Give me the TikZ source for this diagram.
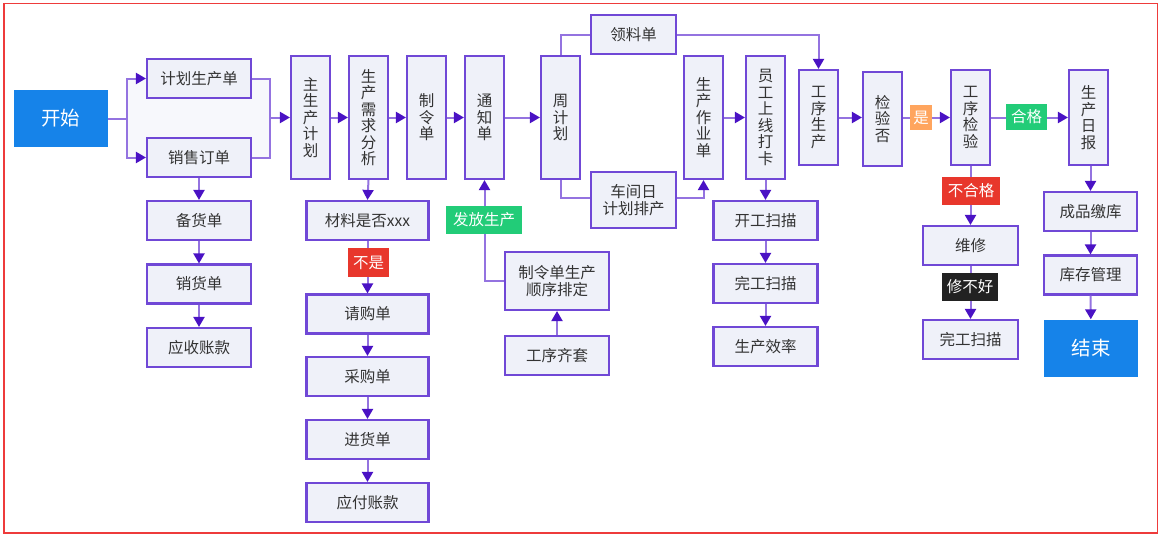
\documentclass[tikz,border=0pt]{standalone}
\usepackage{fontspec}
\setmainfont{Noto Sans CJK SC}
\usetikzlibrary{arrows.meta}
\definecolor{boxfill}{HTML}{EFF1F9}
\definecolor{boxline}{HTML}{7048D6}
\definecolor{linec}{HTML}{9473E0}
\definecolor{tipc}{HTML}{4A12C4}
\definecolor{txt}{HTML}{333333}
\definecolor{startblue}{HTML}{1683E9}
\definecolor{lblgreen}{HTML}{22CC78}
\definecolor{lblred}{HTML}{E8372C}
\definecolor{lblorange}{HTML}{FFA55E}
\definecolor{lbldark}{HTML}{222222}
\definecolor{frame}{HTML}{EE3B3B}
\definecolor{grp}{HTML}{F7F8FC}
\tikzset{
  x=1pt, y=-1pt,
  box/.style={draw=boxline, fill=boxfill, line width=2.1pt, text=txt,
    font=\fontsize{15.5}{16.5}\selectfont, inner sep=0pt, align=center},
  hbox/.style={box, minimum width=#1, minimum height=39pt},
  vbox/.style={box, minimum width=39pt, minimum height=#1},
  term/.style={fill=startblue, text=white, font=\fontsize{19.5}{21}\selectfont,
    inner sep=0pt, minimum width=94pt, minimum height=57pt},
  lbl/.style={fill=#1, text=white, font=\fontsize{15.5}{17}\selectfont,
    inner sep=0pt, minimum height=27pt},
  conn/.style={draw=linec, line width=2pt},
  arr/.style={conn, -{Triangle[length=10pt,width=11pt,color=tipc]}},
}
\begin{document}
\begin{tikzpicture}
\useasboundingbox (0,0) rectangle (1162,536);
\draw[frame, line width=1.6pt] (4,3.5) rectangle (1157.5,533);
\fill[grp] (127,78.5) rectangle (270,157.5);

% left column
\node[term] (start) at (61,118.5) {开始};
\node[hbox=104pt] (jhsc) at (199,78.5) {计划生产单};
\node[hbox=104pt] (xsdd) at (199,157.5) {销售订单};
\node[hbox=104pt] (bhd) at (199,220.5) {备货单};
\node[hbox=104pt] (xhd) at (199,284) {销货单};
\node[hbox=104pt] (yszk) at (199,347.5) {应收账款};

% vertical boxes
\node[vbox=123pt] (zscjh) at (310.5,117.5) {主\\生\\产\\计\\划};
\node[vbox=123pt] (xqfx) at (368.5,117.5) {生\\产\\需\\求\\分\\析};
\node[vbox=123pt] (zld) at (426.5,117.5) {制\\令\\单};
\node[vbox=123pt] (tzd) at (484.5,117.5) {通\\知\\单};
\node[vbox=123pt] (zjh) at (560.5,117.5) {周\\计\\划};
\node[hbox=85pt] (lld) at (633.5,34.5) {领料单};
\node[box, minimum width=85pt, minimum height=56pt] (cjr) at (633.5,200) {车间日\\计划排产};
\node[vbox=123pt] (sczy) at (703.5,117.5) {生\\产\\作\\业\\单};
\node[vbox=123pt] (yg) at (765.5,117.5) {员\\工\\上\\线\\打\\卡};
\node[hbox=104pt] (kgsm) at (765.5,220.5) {开工扫描};
\node[hbox=104pt] (wgsm) at (765.5,283.5) {完工扫描};
\node[hbox=104pt] (scxl) at (765.5,346.5) {生产效率};
\node[vbox=95pt] (gxsc) at (818.5,117.5) {工\\序\\生\\产};
\node[vbox=94pt] (jyf) at (882.5,119) {检\\验\\否};
\node[vbox=95pt] (gxjy) at (970.5,117.5) {工\\序\\检\\验};
\node[vbox=95pt] (scrb) at (1088.5,117.5) {生\\产\\日\\报};
\node[hbox=93pt] (cpjk) at (1090.5,211.5) {成品缴库};
\node[hbox=93pt] (kcgl) at (1090.5,275) {库存管理};
\node[term] (end) at (1091,348) {结束};
\node[hbox=95pt] (wx) at (970.5,245.5) {维修};
\node[hbox=95pt] (wgsm2) at (970.5,339.5) {完工扫描};

% material column
\node[hbox=122pt] (clsf) at (367.5,220.5) {材料是否xxx};
\node[hbox=122pt] (qgd) at (367.5,314) {请购单};
\node[hbox=122pt] (cgd) at (367.5,376.5) {采购单};
\node[hbox=122pt] (jhd) at (367.5,439.5) {进货单};
\node[hbox=122pt] (yfzk) at (367.5,502.5) {应付账款};

\node[box, minimum width=104pt, minimum height=58pt] (px) at (557,281) {制令单生产\\顺序排定};
\node[hbox=104pt] (gxqt) at (557,355.5) {工序齐套};

% connectors
\coordinate (s1) at (127,118.5);
\coordinate (m1) at (270,117.5);
\draw[conn] (start.east) -- (s1);
\draw[arr] (s1) |- (jhsc.west);
\draw[arr] (s1) |- (xsdd.west);
\draw[conn] (jhsc.east) -| (m1);
\draw[conn] (xsdd.east) -| (m1);
\draw[arr] (m1) -- (zscjh.west);
\draw[arr] (xsdd) -- (bhd);
\draw[arr] (bhd) -- (xhd);
\draw[arr] (xhd) -- (yszk);

\draw[arr] (zscjh) -- (xqfx);
\draw[arr] (xqfx) -- (zld);
\draw[arr] (zld) -- (tzd);
\draw[arr] (tzd) -- (zjh);
\draw[arr] (xqfx.south) -- (clsf.north);
\draw[arr] (clsf) -- (qgd);
\draw[arr] (qgd) -- (cgd);
\draw[arr] (cgd) -- (jhd);
\draw[arr] (jhd) -- (yfzk);

\draw[arr] (px.west) -| (tzd.south);
\draw[arr] (gxqt) -- (px);

\draw[conn] (zjh.north) |- (lld.west);
\draw[arr] (lld.east) -| (gxsc.north);
\draw[conn] (zjh.south) |- ([yshift=2pt]cjr.west);
\draw[arr] ([yshift=2pt]cjr.east) -| (sczy.south);
\draw[arr] (sczy) -- (yg);
\draw[arr] (yg) -- (kgsm);
\draw[arr] (kgsm) -- (wgsm);
\draw[arr] (wgsm) -- (scxl);

\draw[arr] (gxsc.east) -- (gxsc.east -| jyf.west);
\draw[arr] (jyf.east |- gxjy.west) -- (gxjy.west);
\draw[arr] (gxjy.east) -- (scrb.west);
\draw[arr] (gxjy) -- (wx);
\draw[arr] (wx) -- (wgsm2);
\draw[arr] (scrb.south -| cpjk.north) -- (cpjk.north);
\draw[arr] (cpjk) -- (kcgl);
\draw[arr] (kcgl) -- (end);

% labels
\node[lbl=lblred, minimum width=41pt, minimum height=29pt] (bs) at (368.5,262.5) {不是};
\node[lbl=lblgreen, minimum width=76pt, minimum height=28pt] (ffsc) at (484,220) {发放生产};
\node[lbl=lblorange, minimum width=22pt, minimum height=25pt] (shi) at (921,117.5) {是};
\node[lbl=lblgreen, minimum width=41pt, minimum height=26pt] (hg) at (1026.5,117) {合格};
\node[lbl=lblred, minimum width=58pt, minimum height=28pt] (bhg) at (971,191) {不合格};
\node[lbl=lbldark, minimum width=56pt, minimum height=28pt] (xbh) at (970,287) {修不好};
\end{tikzpicture}
\end{document}
